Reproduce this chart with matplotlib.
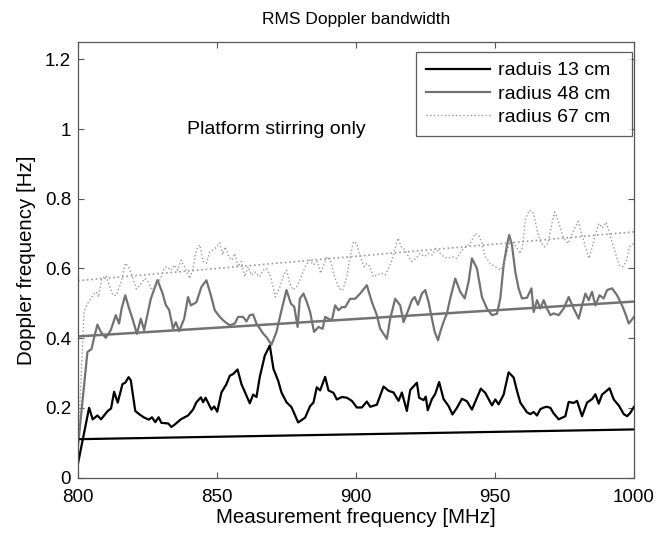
"""RMS Doppler bandwidth vs measurement frequency (3 radii)."""
import numpy as np
import matplotlib
matplotlib.use("Agg")
import matplotlib.pyplot as plt

plt.rcParams["font.family"] = ["Liberation Sans", "DejaVu Sans"]

# (frequency MHz, Doppler Hz)
r13 = [(800, 0.04), (804, 0.20), (805.3, 0.167), (807, 0.178), (808.3, 0.167), (810.7, 0.191),
       (811.9, 0.198), (813, 0.246), (814.3, 0.215), (816, 0.268), (817, 0.272), (818.2, 0.288),
       (819, 0.279), (820.6, 0.191), (822, 0.182), (823.6, 0.173), (825.5, 0.166), (826.6, 0.173),
       (827.8, 0.159), (829, 0.173), (830, 0.157), (832.5, 0.155), (833.6, 0.145), (834.8, 0.152),
       (837, 0.167), (839.6, 0.178), (841.4, 0.195), (842.6, 0.216), (844.2, 0.23), (845, 0.216),
       (845.9, 0.229), (848, 0.195), (849, 0.204), (850.1, 0.189), (851.6, 0.244), (853.4, 0.268),
       (854.6, 0.292), (855.8, 0.297), (857.4, 0.31), (858.8, 0.268), (860.6, 0.235),
       (861.8, 0.213), (863, 0.238), (864.2, 0.231), (865.4, 0.289), (867.2, 0.35), (869, 0.379),
       (870.3, 0.312), (872, 0.278), (873.2, 0.244), (875, 0.216), (876.8, 0.202), (879.2, 0.158),
       (881.7, 0.172), (883.5, 0.205), (884.7, 0.215), (885.9, 0.259), (887.1, 0.25),
       (888.9, 0.289), (890.1, 0.25), (891.9, 0.243), (893.1, 0.224), (894.9, 0.231),
       (896.7, 0.229), (898.5, 0.22), (900.3, 0.201), (902.1, 0.201), (903.9, 0.218),
       (905.1, 0.203), (907.5, 0.209), (909.9, 0.261), (911.7, 0.249), (913.5, 0.244),
       (915.3, 0.22), (916.5, 0.244), (918.3, 0.191), (919.5, 0.251), (921.9, 0.272),
       (922.7, 0.229), (924.3, 0.222), (925.1, 0.232), (925.8, 0.193), (927.3, 0.225),
       (928.5, 0.24), (929.9, 0.274), (931.5, 0.225), (933.3, 0.205), (934.7, 0.181),
       (936.3, 0.2), (938.1, 0.226), (939.9, 0.219), (941.7, 0.195), (943.5, 0.229),
       (944.9, 0.255), (946.5, 0.243), (948.9, 0.207), (950.1, 0.224), (951.3, 0.21),
       (953.1, 0.238), (954.9, 0.302), (956.7, 0.287), (957.9, 0.249), (959.1, 0.215),
       (961.5, 0.187), (962.7, 0.182), (963.9, 0.188), (965.1, 0.178), (966.3, 0.196),
       (967.5, 0.201), (968.7, 0.203), (969.9, 0.2), (971.1, 0.184), (972.9, 0.167),
       (975.3, 0.176), (976.5, 0.217), (978.3, 0.214), (979.5, 0.22), (981.3, 0.176),
       (983.1, 0.215), (984.9, 0.225), (986.1, 0.239), (987.3, 0.212), (988.5, 0.238),
       (990.3, 0.25), (991.2, 0.256), (992.7, 0.224), (994.5, 0.207), (996.3, 0.182),
       (997.5, 0.176), (998.7, 0.186), (1000, 0.203)]

r48 = [(800, 0.09), (803.4, 0.36), (804.9, 0.369), (805.7, 0.398), (807, 0.439), (808.2, 0.418),
       (810, 0.401), (811.8, 0.423), (813.6, 0.466), (814.8, 0.442), (815.7, 0.485), (817, 0.523),
       (818.4, 0.485), (819.6, 0.456), (821.2, 0.412), (822.6, 0.456), (823.8, 0.423),
       (826.2, 0.513), (828.6, 0.567), (830.4, 0.529), (831.6, 0.495), (832.8, 0.481),
       (834.2, 0.427), (835.2, 0.446), (836.4, 0.42), (838.2, 0.456), (839.6, 0.518),
       (840.6, 0.494), (842.6, 0.503), (844.4, 0.547), (846.2, 0.566), (847.8, 0.523),
       (849.2, 0.48), (851, 0.461), (852.8, 0.447), (854.6, 0.437), (856.4, 0.442), (857.6, 0.461),
       (859.4, 0.461), (860.6, 0.448), (861.8, 0.466), (863, 0.468), (864.2, 0.442),
       (865.4, 0.428), (866.6, 0.413), (867.8, 0.403), (869.6, 0.381), (871.4, 0.418),
       (873.2, 0.48), (875, 0.538), (876.6, 0.499), (877.8, 0.49), (879, 0.432), (879.8, 0.513),
       (881.1, 0.528), (882.3, 0.504), (883.5, 0.475), (884.9, 0.418), (886.5, 0.432),
       (888, 0.427), (888.9, 0.461), (890.1, 0.456), (891.3, 0.451), (892.5, 0.494),
       (893.7, 0.48), (894.9, 0.489), (896.1, 0.489), (897.9, 0.513), (899.7, 0.513),
       (901.5, 0.528), (903.9, 0.552), (905.7, 0.504), (907.5, 0.466), (908.7, 0.427),
       (911.1, 0.398), (912.3, 0.456), (914.1, 0.513), (915.9, 0.494), (917.1, 0.446),
       (918.3, 0.47), (920.1, 0.509), (921.1, 0.518), (922.3, 0.496), (923.7, 0.528),
       (924.9, 0.538), (926.1, 0.504), (927.3, 0.456), (928.3, 0.418), (929.5, 0.394),
       (930.3, 0.418), (931.5, 0.447), (932.7, 0.471), (933.9, 0.514), (935.7, 0.571),
       (937.5, 0.533), (939.1, 0.514), (940.5, 0.562), (941.7, 0.629), (943.5, 0.6),
       (945.3, 0.518), (947.1, 0.485), (948.9, 0.466), (950.7, 0.47), (951.9, 0.514),
       (953.1, 0.61), (954.3, 0.667), (955.1, 0.696), (956.1, 0.667), (957.3, 0.59),
       (958.5, 0.542), (959.7, 0.514), (961.5, 0.516), (963.1, 0.543), (963.9, 0.475),
       (965.1, 0.509), (966.3, 0.485), (967.5, 0.509), (968.7, 0.485), (969.9, 0.466),
       (971.1, 0.471), (972.9, 0.466), (974.7, 0.485), (976.5, 0.518), (978.3, 0.485),
       (980.1, 0.456), (981.3, 0.494), (982.5, 0.528), (983.7, 0.509), (984.9, 0.533),
       (986.1, 0.494), (987.6, 0.523), (989.1, 0.514), (990.3, 0.538), (992.1, 0.543),
       (993.9, 0.523), (995.7, 0.494), (996.9, 0.47), (998.1, 0.442), (1000, 0.461)]

r67 = [(800, 0.08), (802.2, 0.478), (803.6, 0.501), (805.4, 0.523), (806.6, 0.533),
       (807.4, 0.518), (808.6, 0.571), (810.2, 0.579), (811.4, 0.547), (812.6, 0.523),
       (813.8, 0.523), (815.6, 0.562), (817, 0.615), (818.2, 0.605), (819.4, 0.581), (821, 0.541),
       (822.2, 0.552), (824, 0.571), (825.2, 0.562), (826.6, 0.538), (828.2, 0.55), (829.7, 0.571),
       (830.9, 0.6), (832.1, 0.605), (833.5, 0.595), (834.7, 0.61), (835.9, 0.595), (837.1, 0.624),
       (838.3, 0.605), (840.2, 0.571), (841.4, 0.6), (842.6, 0.653), (843.8, 0.668), (845, 0.62),
       (846.2, 0.615), (847.4, 0.648), (848.6, 0.653), (849.8, 0.662), (851, 0.674), (852, 0.639),
       (853, 0.662), (854.2, 0.634), (855.4, 0.624), (856.4, 0.643), (857.6, 0.605),
       (858.8, 0.62), (860, 0.576), (861.2, 0.605), (862.4, 0.581), (863.6, 0.59), (865.4, 0.576),
       (866.6, 0.595), (867.8, 0.6), (869.3, 0.576), (871, 0.518), (872.6, 0.547), (873.8, 0.576),
       (875, 0.595), (876.2, 0.557), (877.4, 0.538), (878.6, 0.547), (879.8, 0.566),
       (881.7, 0.605), (883.3, 0.624), (884.7, 0.61), (886.1, 0.62), (887.3, 0.586),
       (888.5, 0.614), (889.7, 0.634), (890.9, 0.62), (892.5, 0.571), (894, 0.542),
       (895.2, 0.537), (896.7, 0.576), (897.9, 0.634), (899.1, 0.677), (900.3, 0.672),
       (901.5, 0.634), (903, 0.605), (903.9, 0.614), (905.1, 0.605), (906.1, 0.576),
       (907.5, 0.581), (909.3, 0.586), (910.5, 0.581), (911.7, 0.6), (912.9, 0.624),
       (913.9, 0.653), (915.1, 0.687), (916.3, 0.662), (917.7, 0.653), (918.9, 0.634),
       (920.1, 0.62), (921.5, 0.629), (923.1, 0.643), (924.6, 0.634), (926.1, 0.643),
       (927.5, 0.639), (928.7, 0.658), (930.3, 0.643), (931.5, 0.634), (933.1, 0.629),
       (934.5, 0.634), (936.3, 0.629), (938.1, 0.653), (939.5, 0.662), (941.1, 0.672),
       (942.9, 0.7), (944.1, 0.696), (945.3, 0.672), (946.5, 0.634), (948.3, 0.614),
       (950.1, 0.605), (951.9, 0.595), (953.1, 0.614), (954.3, 0.643), (955.5, 0.687),
       (956.7, 0.672), (957.9, 0.658), (959.1, 0.643), (959.9, 0.662), (960.9, 0.74),
       (962.4, 0.768), (963.9, 0.758), (965.1, 0.71), (966.3, 0.677), (967.8, 0.662),
       (969, 0.672), (970.5, 0.73), (971.4, 0.762), (972.3, 0.748), (973.5, 0.716),
       (974.7, 0.686), (976.3, 0.672), (978.1, 0.706), (979.9, 0.735), (981.1, 0.701),
       (982.5, 0.662), (983.8, 0.629), (985, 0.662), (986.2, 0.701), (987.4, 0.729),
       (988.6, 0.716), (990, 0.733), (991.5, 0.691), (993, 0.653), (994.6, 0.61), (996, 0.605),
       (997.2, 0.62), (998.4, 0.662), (1000, 0.672)]

# linear fits
f_fit = [800, 1000]
fit13 = [0.11, 0.138]
fit48 = [0.405, 0.505]
fit67 = [0.565, 0.705]

labels = ["raduis 13 cm", "radius 48 cm", "radius 67 cm"]

fig = plt.figure(figsize=(6.71, 5.33), dpi=100)
ax = fig.add_axes([0.1162, 0.1041, 0.8287, 0.8171])

for pts, lab, col, lw, ls in [(r13, labels[0], "black", 1.6, "-"),
                              (r48, labels[1], "#727272", 1.6, "-"),
                              (r67, labels[2], "#9a9a9a", 1.0, ":")]:
    f, v = zip(*pts)
    ax.plot(f, v, color=col, lw=lw, ls=ls, label=lab)
ax.plot(f_fit, fit13, color="black", lw=1.6)
ax.plot(f_fit, fit48, color="#727272", lw=1.8)
ax.plot(f_fit, fit67, color="#9a9a9a", lw=1.2, ls=":")

ax.set_xlim(800, 1000)
ax.set_ylim(0, 1.25)
ax.set_xticks([800, 850, 900, 950, 1000])
ax.set_yticks([0, 0.2, 0.4, 0.6, 0.8, 1, 1.2])
ax.set_yticklabels(["0", "0.2", "0.4", "0.6", "0.8", "1", "1.2"])
ax.tick_params(direction="in", length=4, top=True, right=True, labelsize=13.5,
               color="#555555", width=0.8)
ax.tick_params(axis="x", pad=8)
ax.tick_params(axis="y", pad=5)
for s in ax.spines.values():
    s.set_color("#555555")
    s.set_linewidth(0.9)

ax.set_xlabel("Measurement frequency [MHz]", fontsize=14.8, labelpad=2)
ax.set_ylabel("Doppler frequency [Hz]", fontsize=14.8, labelpad=6)
ax.set_title("RMS Doppler bandwidth", fontsize=12.5, pad=13)
ax.text(839.2, 1.0, "Platform stirring only", fontsize=14, va="center", ha="left")

leg = ax.legend(loc="upper left", bbox_to_anchor=(0.608, 0.5, 0.3885, 0.477), mode="expand",
                fontsize=14, handlelength=3.3, handletextpad=0.4, frameon=True,
                fancybox=False, borderaxespad=0, labelspacing=0.3, borderpad=0.5)
leg.get_frame().set_edgecolor("#333333")
leg.get_frame().set_linewidth(0.9)

fig.savefig("out.png", dpi=100)
